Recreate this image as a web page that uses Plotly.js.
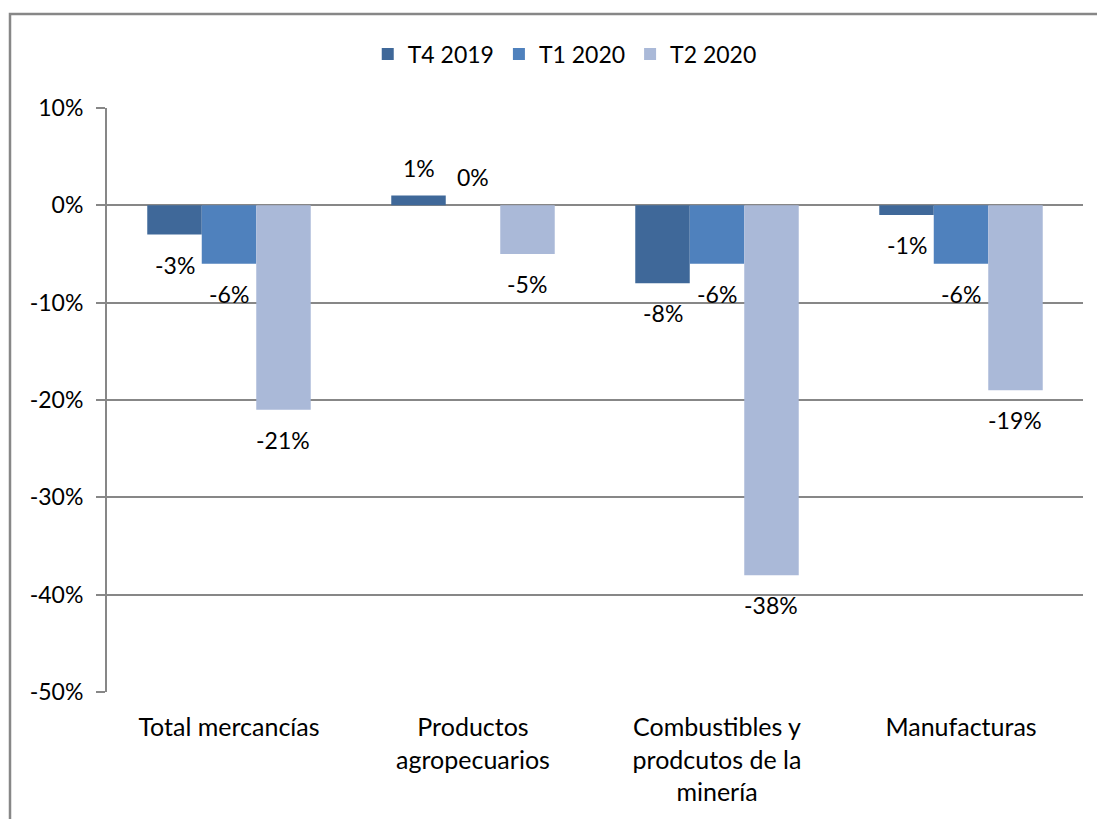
<!DOCTYPE html>
<html>
<head>
<meta charset="utf-8">
<script src="https://cdn.plot.ly/plotly-3.0.1.min.js"></script>
<style>html,body{margin:0;padding:0;background:#fff;}#chart{width:1097px;height:819px;}</style>
</head>
<body>
<div id="chart"></div>
<script>
const categories = ["Total mercancías", "Productos<br>agropecuarios", "Combustibles y<br>prodcutos de la<br>minería", "Manufacturas"];
const seriesNames = ["T4 2019", "T1 2020", "T2 2020"];
const t4_2019 = [-0.03, 0.01, -0.08, -0.01];
const t1_2020 = [-0.06, 0.00, -0.06, -0.06];
const t2_2020 = [-0.21, -0.05, -0.38, -0.19];
const yTickVals = [0.1, 0, -0.1, -0.2, -0.3, -0.4, -0.5];
const yTickText = ["10%", "0%", "-10%", "-20%", "-30%", "-40%", "-50%"];
const colors = ["#3F6899", "#4F81BD", "#AAB9D8"];

const FONT = "Lato, 'Liberation Sans', sans-serif";
const FS = 23;
const allSeries = [t4_2019, t1_2020, t2_2020];

const traces = allSeries.map((vals, i) => ({
  type: "bar",
  name: seriesNames[i],
  x: categories,
  y: vals,
  marker: {color: colors[i], line: {width: 0}},
  hoverinfo: "skip"
}));

const annotations = [];
const plotW = 1097 - 107 - 14;
const catW = plotW / categories.length;
const barW = catW * (1 - 0.33) / 3;
allSeries.forEach((vals, i) => {
  vals.forEach((v, j) => {
    annotations.push({
      x: categories[j], y: v, xref: "x", yref: "y",
      text: Math.round(v * 100) + "%",
      showarrow: false,
      xshift: (i - 1) * barW,
      yshift: v < 0 ? -30 : 28,
      font: {family: FONT, size: FS, color: "#000"}
    });
  });
});

const layout = {
  width: 1097, height: 819,
  margin: {l: 107, r: 14, t: 108, b: 127},
  paper_bgcolor: "#fff", plot_bgcolor: "#fff",
  font: {family: FONT, size: FS, color: "#000"},
  barmode: "group",
  bargap: 0.33, bargroupgap: 0,
  showlegend: true,
  legend: {orientation: "h", x: 0.469, xanchor: "center", y: 1.0925, yanchor: "middle",
    font: {family: FONT, size: FS, color: "#000"}, itemclick: false, traceorder: "normal",
    itemwidth: 30},
  xaxis: {
    type: "category", showgrid: false, zeroline: false, showline: false,
    ticks: "", tickfont: {family: FONT, size: 25, color: "#000"}, automargin: false,
    ticklabelstandoff: 18
  },
  yaxis: {
    range: [-0.5, 0.1], tickvals: yTickVals, ticktext: yTickText,
    showgrid: true, gridcolor: "#878787", gridwidth: 2,
    zeroline: true, zerolinecolor: "#878787", zerolinewidth: 2,
    showline: true, linecolor: "#878787", linewidth: 2,
    ticks: "outside", ticklen: 9, tickcolor: "#878787", tickwidth: 2,
    tickfont: {family: FONT, size: FS, color: "#000"}, ticklabelstandoff: 8, automargin: false
  },
  annotations: annotations,
  shapes: [{
    type: "rect", xref: "paper", yref: "paper",
    x0: (10 - 107) / plotW, x1: 1.2, y0: -0.5, y1: 1 + (108 - 14) / 584,
    line: {color: "#878787", width: 2.5}, fillcolor: "rgba(0,0,0,0)", layer: "below"
  }]
};

Plotly.newPlot("chart", traces, layout, {displayModeBar: false, staticPlot: true});
</script>
</body>
</html>
